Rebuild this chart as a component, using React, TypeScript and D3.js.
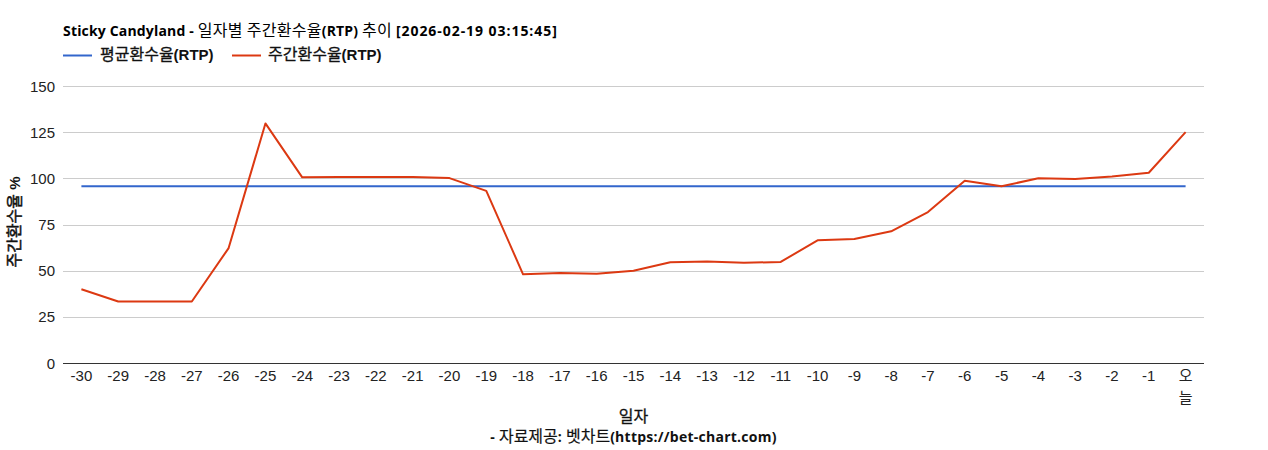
import React from "react";
import * as d3 from "d3";

const titleParts = ["Sticky Candyland - 일자별 주간환수율(RTP) 추이 ", "[2026-02-19 03:15:45]"];
const legendLabels = ["평균환수율(RTP)", "주간환수율(RTP)"];
const xTitle = "일자";
const yTitle = "주간환수율 %";
const footer = "- 자료제공: 벳차트(https://bet-chart.com)";
const categories = ["-30","-29","-28","-27","-26","-25","-24","-23","-22","-21","-20","-19","-18","-17","-16","-15","-14","-13","-12","-11","-10","-9","-8","-7","-6","-5","-4","-3","-2","-1","오늘"];
const weekly = [40.2,33.6,33.6,33.6,62.5,130,100.8,101,101,101,100.4,93.5,48.3,49,48.6,50.2,54.8,55.2,54.5,55,66.7,67.4,71.6,82,99,96,100.3,99.9,101.3,103.3,125.3];
const average = categories.map(() => 96);
const yTicks = [0,25,50,75,100,125,150];
const AVG = "#3366cc";
const WEEK = "#dc3912";
const arial = "'Liberation Sans', Arial";
const cjk = "'Noto Sans CJK KR'";
const latin = "'Open Sans', 'Noto Sans'";

function Mixed({ text, latinSize = 14, latinFont = latin, heavy = 0, spacing = 0, cjkSpacing = 0 }: { text: string; latinSize?: number; latinFont?: string; heavy?: number; spacing?: number; cjkSpacing?: number }) {
  const runs = text.match(/[\uac00-\ud7a3]+|[^\uac00-\ud7a3]+/g) || [];
  return (
    <>
      {runs.map((r, i) =>
        /[\uac00-\ud7a3]/.test(r) ? (
          <tspan key={i} fontFamily={cjk} fontSize={16} fontWeight={400} letterSpacing={cjkSpacing} stroke={heavy ? "currentColor" : "none"} strokeWidth={heavy}>{r}</tspan>
        ) : (
          <tspan key={i} fontFamily={latinFont} fontSize={latinSize} fontWeight={700} letterSpacing={spacing}>{r}</tspan>
        )
      )}
    </>
  );
}

export default function App() {
  const x = d3.scaleBand<string>().domain(categories).range([63, 1204]);
  const y = d3.scaleLinear().domain([0, 150]).range([363.5, 86.5]);
  const cx = (c: string) => (x(c) as number) + x.bandwidth() / 2;
  const line = d3.line<number>().x((_, i) => cx(categories[i])).y((d) => y(d));
  const today = categories[categories.length - 1];
  return (
    <svg width={1268} height={450} style={{ position: "absolute", left: 0, top: 0, background: "#fff", whiteSpace: "pre", color: "#111" }}>
      <text x={63} y={36} fill="#000">
        <Mixed text={titleParts[0]} spacing={0.17} cjkSpacing={0.3} />
        <Mixed text={titleParts[1]} spacing={0.95} />
      </text>
      <line x1={63} x2={92} y1={55.5} y2={55.5} stroke={AVG} strokeWidth={2} />
      <text x={100} y={60} fill="#111"><Mixed text={legendLabels[0]} latinSize={15} latinFont={arial} heavy={0.3} /></text>
      <line x1={232} x2={261} y1={55.5} y2={55.5} stroke={WEEK} strokeWidth={2} />
      <text x={268} y={60} fill="#111"><Mixed text={legendLabels[1]} latinSize={15} latinFont={arial} heavy={0.3} /></text>

      {yTicks.filter((t) => t > 0).map((t) => (
        <line key={t} x1={63} x2={1204} y1={Math.floor(y(t)) + 0.5} y2={Math.floor(y(t)) + 0.5} stroke="#cccccc" />
      ))}
      {yTicks.map((t) => (
        <text key={t} x={55} y={y(t) + 5} textAnchor="end" fontFamily={arial} fontSize={15} fill="#222">{t}</text>
      ))}
      <line x1={63} x2={1204} y1={363.5} y2={363.5} stroke="#333333" />

      {categories.slice(0, -1).map((c) => (
        <text key={c} x={cx(c)} y={381} textAnchor="middle" fontFamily={arial} fontSize={15} fill="#222">{c}</text>
      ))}
      <text x={cx(today)} y={380.5} fontFamily={cjk} fontSize={15} fill="#222" textAnchor="middle">{today[0]}</text>
      <text x={cx(today)} y={402.5} fontFamily={cjk} fontSize={15} fill="#222" textAnchor="middle">{today[1]}</text>

      <path d={line(average) as string} fill="none" stroke={AVG} strokeWidth={2} />
      <path d={line(weekly) as string} fill="none" stroke={WEEK} strokeWidth={2} strokeLinejoin="round" />

      <text x={633.5} y={422} textAnchor="middle" fill="#111"><Mixed text={xTitle} heavy={0.3} /></text>
      <text x={633.5} y={442} textAnchor="middle" fill="#111"><Mixed text={footer} heavy={0.2} spacing={0.25} /></text>
      <text transform="translate(20,222) rotate(-90)" textAnchor="middle" fill="#111"><Mixed text={yTitle} latinSize={15} latinFont={arial} heavy={0.5} /></text>
    </svg>
  );
}
